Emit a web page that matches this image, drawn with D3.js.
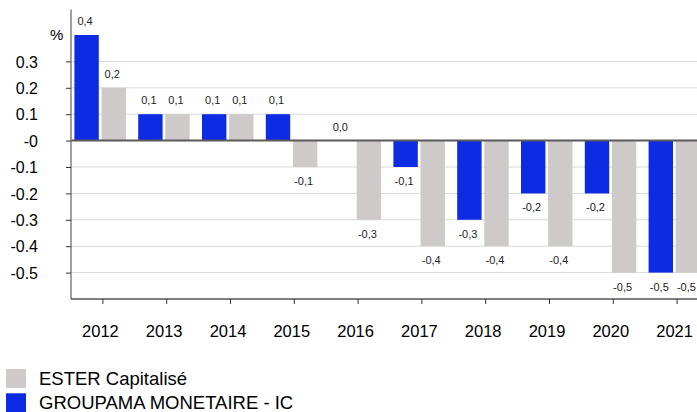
<!DOCTYPE html>
<html>
<head>
<meta charset="utf-8">
<script src="https://cdn.jsdelivr.net/npm/d3@7"></script>
<style>
  body { margin: 0; background: #fff; }
  svg { display: block; font-family: "Liberation Sans", Arial, sans-serif; }
</style>
</head>
<body>
<div id="chart"></div>
<script>
// 数据
const years = ["2012", "2013", "2014", "2015", "2016", "2017", "2018", "2019", "2020", "2021"];
const fundValues = [0.4, 0.1, 0.1, 0.1, 0.0, -0.1, -0.3, -0.2, -0.2, -0.5];
const benchValues = [0.2, 0.1, 0.1, -0.1, -0.3, -0.4, -0.4, -0.4, -0.5, -0.5];
const yTickValues = [0.3, 0.2, 0.1, 0, -0.1, -0.2, -0.3, -0.4, -0.5];
const yTickLabels = ["0.3", "0.2", "0.1", "-0", "-0.1", "-0.2", "-0.3", "-0.4", "-0.5"];
const seriesNames = ["GROUPAMA MONETAIRE - IC", "ESTER Capitalisé"];
const legendOrder = ["ESTER Capitalisé", "GROUPAMA MONETAIRE - IC"];

// 配置常量
const CHART_CONFIG = {
  width: 697,
  height: 412,
  axisLeft: 71,
  axisBottom: 299,
  step: 63.8,
  colors: { "GROUPAMA MONETAIRE - IC": "#0c2be2", "ESTER Capitalisé": "#cdcac9" }
};

const svg = d3.select("#chart")
  .append("svg")
  .attr("width", CHART_CONFIG.width)
  .attr("height", CHART_CONFIG.height);

// 比例尺
const x = d3.scaleBand()
  .domain(years)
  .range([CHART_CONFIG.axisLeft, CHART_CONFIG.axisLeft + CHART_CONFIG.step * years.length])
  .padding(0);

const xSub = d3.scaleBand()
  .domain(seriesNames)
  .range([0, 51.5])
  .paddingInner(0.1);

const y = d3.scaleLinear()
  .domain([-0.6, 0.5])
  .range([CHART_CONFIG.axisBottom, 8.6]);

const fmt = v => d3.format(".1f")(v).replace("\u2212", "-").replace(".", ",");
const center = d => x(d) + x.bandwidth() / 2;

// 网格线
svg.append("g")
  .selectAll("line")
  .data(yTickValues.filter(v => v !== 0))
  .join("line")
  .attr("x1", CHART_CONFIG.axisLeft)
  .attr("x2", CHART_CONFIG.width)
  .attr("y1", d => y(d))
  .attr("y2", d => y(d))
  .attr("stroke", "#d9d9d9")
  .attr("stroke-width", 1);

// 柱子
const rows = years.map((year, i) => ({
  year,
  bars: [
    { name: seriesNames[0], value: fundValues[i] },
    { name: seriesNames[1], value: benchValues[i] }
  ]
}));

const groups = svg.append("g")
  .selectAll("g")
  .data(rows)
  .join("g")
  .attr("transform", d => `translate(${center(d.year) - 28.5},0)`);

groups.selectAll("rect")
  .data(d => d.bars)
  .join("rect")
  .attr("x", d => xSub(d.name))
  .attr("width", xSub.bandwidth())
  .attr("y", d => y(Math.max(0, d.value)))
  .attr("height", d => Math.abs(y(d.value) - y(0)))
  .attr("fill", d => CHART_CONFIG.colors[d.name]);

// 数值标签
groups.selectAll("text")
  .data(d => d.bars)
  .join("text")
  .attr("x", d => xSub(d.name) + xSub.bandwidth() / 2 - 1.5)
  .attr("y", d => d.value >= 0 ? y(d.value) - 10 : y(d.value) + 18)
  .attr("text-anchor", "middle")
  .style("font-size", "11px")
  .style("fill", "#222")
  .text(d => fmt(d.value));

// 零线
svg.append("line")
  .attr("x1", CHART_CONFIG.axisLeft)
  .attr("x2", CHART_CONFIG.width)
  .attr("y1", y(0))
  .attr("y2", y(0))
  .attr("stroke", "#5a5a5a")
  .attr("stroke-width", 2);

// y轴
svg.append("g")
  .attr("transform", `translate(${CHART_CONFIG.axisLeft},0)`)
  .call(d3.axisLeft(y)
    .tickValues(yTickValues)
    .tickSize(5)
    .tickPadding(0)
    .tickFormat((d, i) => yTickLabels[i]))
  .call(g => g.select(".domain")
    .attr("d", `M0,${y(0.5) + 1}V${CHART_CONFIG.axisBottom}`)
    .attr("stroke", "#808080")
    .attr("stroke-width", 1.5))
  .call(g => g.selectAll(".tick line").attr("stroke", "#333"))
  .call(g => g.selectAll(".tick text")
    .attr("x", -33)
    .attr("dy", "0.35em")
    .style("font-size", "16px")
    .style("font-family", "Liberation Sans, Arial, sans-serif")
    .style("fill", "#000"));

svg.append("text")
  .attr("x", 50)
  .attr("y", 40)
  .style("font-size", "15px")
  .text("%");

// x轴
svg.append("g")
  .attr("transform", `translate(0,${CHART_CONFIG.axisBottom})`)
  .call(d3.axisBottom(x).tickSize(5).tickSizeOuter(0).tickFormat(""))
  .call(g => g.select(".domain")
    .attr("d", `M${CHART_CONFIG.axisLeft},0H${CHART_CONFIG.width}`)
    .attr("stroke", "#000"))
  .call(g => g.selectAll(".tick line").attr("stroke", "#333"));

svg.append("g")
  .selectAll("text")
  .data(years)
  .join("text")
  .attr("x", d => center(d) - 2.5)
  .attr("y", 337)
  .attr("text-anchor", "middle")
  .style("font-size", "16.5px")
  .text(d => d);

// 图例
const legend = svg.append("g")
  .selectAll("g")
  .data(legendOrder)
  .join("g")
  .attr("transform", (d, i) => `translate(6,${369 + i * 24.3})`);

legend.append("rect")
  .attr("width", 20)
  .attr("height", 19)
  .attr("fill", d => CHART_CONFIG.colors[d]);

legend.append("text")
  .attr("x", 33)
  .attr("y", 15.5)
  .style("font-size", "18.5px")
  .text(d => d);
</script>
</body>
</html>
